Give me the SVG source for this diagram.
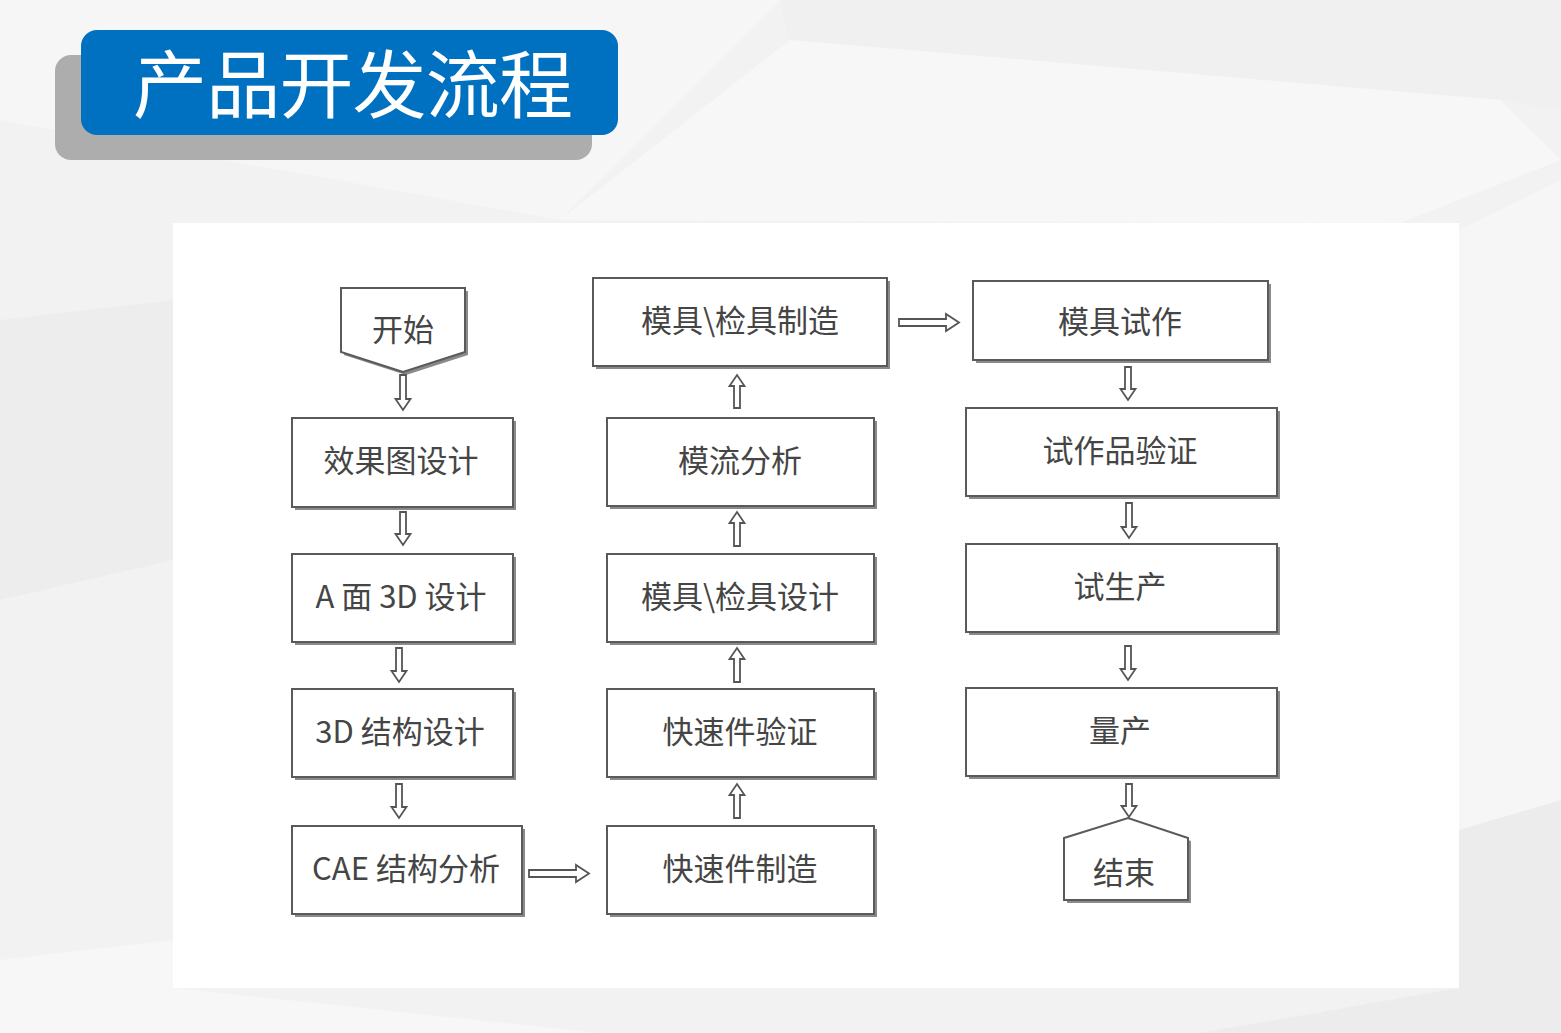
<svg xmlns="http://www.w3.org/2000/svg" width="1561" height="1033" viewBox="0 0 1561 1033">
<defs>
<style>
.box{fill:#fff;stroke:#5a5a5a;stroke-width:2}
.sh{fill:#8a8a8a}
.lbl{font-family:"Noto Sans CJK SC","Noto Sans",sans-serif;font-size:31px;fill:#454545;text-anchor:middle}
.arr{fill:#fff;stroke:#555;stroke-width:1.8;stroke-linejoin:miter}
.title{font-family:"Noto Sans CJK SC","Noto Sans",sans-serif;font-size:74px;fill:#fff}
</style>
</defs>
<rect x="0" y="0" width="1561" height="1033" fill="#f2f2f2"/>
<polygon points="0,0 780,0 560,220 0,120" fill="#f6f6f6"/>
<polygon points="780,0 1561,0 1561,110 1500,100 790,40" fill="#f0f0f0"/>
<polygon points="790,40 1500,100 1561,160 1400,223 560,220" fill="#f7f7f7"/>
<polygon points="0,320 173,300 173,560 0,600" fill="#ededed"/>
<polygon points="1459,230 1561,180 1561,820 1459,850" fill="#f6f6f6"/>
<polygon points="0,960 173,940 173,988 600,1033 0,1033" fill="#f7f7f7"/>
<polygon points="1459,830 1561,800 1561,1033 1200,1033 1459,988" fill="#ececec"/>
<g id="title">
<rect x="55" y="55" width="537" height="105" rx="16" fill="#adadad"/>
<rect x="81" y="30" width="537" height="105" rx="16" fill="#0070c0"/>
<text class="title" x="133" y="112" textLength="440">产品开发流程</text>
</g>
<rect x="173" y="223" width="1286" height="765" fill="#fff"/>
<g id="n-start">
<polygon class="sh" points="344,291 468,291 468,355 406,375 344,355"/>
<polygon class="box" points="341,288 465,288 465,352 403,372 341,352"/>
<text class="lbl" x="403" y="341">开始</text>
</g>
<g id="n-xiaoguotu">
<rect class="sh" x="295" y="421" width="221" height="89"/>
<rect class="box" x="292" y="418" width="221" height="89"/>
<text class="lbl" x="401" y="472">效果图设计</text>
</g>
<g id="n-amian">
<rect class="sh" x="295" y="557" width="221" height="88"/>
<rect class="box" x="292" y="554" width="221" height="88"/>
<text class="lbl" x="401" y="608">A 面 3D 设计</text>
</g>
<g id="n-jiegou">
<rect class="sh" x="295" y="692" width="221" height="88"/>
<rect class="box" x="292" y="689" width="221" height="88"/>
<text class="lbl" x="400" y="743">3D 结构设计</text>
</g>
<g id="n-cae">
<rect class="sh" x="295" y="829" width="230" height="88"/>
<rect class="box" x="292" y="826" width="230" height="88"/>
<text class="lbl" x="406" y="880">CAE 结构分析</text>
</g>
<g id="n-mojuzhizao">
<rect class="sh" x="596" y="281" width="294" height="88"/>
<rect class="box" x="593" y="278" width="294" height="88"/>
<text class="lbl" x="740" y="332">模具\检具制造</text>
</g>
<g id="n-moliu">
<rect class="sh" x="610" y="421" width="267" height="88"/>
<rect class="box" x="607" y="418" width="267" height="88"/>
<text class="lbl" x="740" y="472">模流分析</text>
</g>
<g id="n-mojusheji">
<rect class="sh" x="610" y="557" width="267" height="88"/>
<rect class="box" x="607" y="554" width="267" height="88"/>
<text class="lbl" x="740" y="608">模具\检具设计</text>
</g>
<g id="n-kuaisuyanzheng">
<rect class="sh" x="610" y="692" width="267" height="88"/>
<rect class="box" x="607" y="689" width="267" height="88"/>
<text class="lbl" x="740" y="743">快速件验证</text>
</g>
<g id="n-kuaisuzhizao">
<rect class="sh" x="610" y="829" width="267" height="88"/>
<rect class="box" x="607" y="826" width="267" height="88"/>
<text class="lbl" x="740" y="880">快速件制造</text>
</g>
<g id="n-mojushizuo">
<rect class="sh" x="976" y="284" width="295" height="79"/>
<rect class="box" x="973" y="281" width="295" height="79"/>
<text class="lbl" x="1120" y="333">模具试作</text>
</g>
<g id="n-shizuopin">
<rect class="sh" x="969" y="411" width="311" height="88"/>
<rect class="box" x="966" y="408" width="311" height="88"/>
<text class="lbl" x="1120" y="462">试作品验证</text>
</g>
<g id="n-shishengchan">
<rect class="sh" x="969" y="547" width="311" height="88"/>
<rect class="box" x="966" y="544" width="311" height="88"/>
<text class="lbl" x="1120" y="598">试生产</text>
</g>
<g id="n-liangchan">
<rect class="sh" x="969" y="691" width="311" height="88"/>
<rect class="box" x="966" y="688" width="311" height="88"/>
<text class="lbl" x="1120" y="742">量产</text>
</g>
<g id="n-end">
<polygon class="sh" points="1067,841 1131,821 1191,841 1191,903 1067,903"/>
<polygon class="box" points="1064,838 1128,818 1188,838 1188,900 1064,900"/>
<text class="lbl" x="1124" y="884">结束</text>
</g>
<g id="connectors">
<path class="arr" d="M400,375 H406 V399 H410.5 L403,410 L395.5,399 H400 Z"/>
<path class="arr" d="M400,512 H406 V534 H410.5 L403,545 L395.5,534 H400 Z"/>
<path class="arr" d="M396,648 H402 V671 H406.5 L399,682 L391.5,671 H396 Z"/>
<path class="arr" d="M396,784 H402 V807 H406.5 L399,818 L391.5,807 H396 Z"/>
<path class="arr" d="M734,408 H740 V386 H744.5 L737,375 L729.5,386 H734 Z"/>
<path class="arr" d="M734,546 H740 V523 H744.5 L737,512 L729.5,523 H734 Z"/>
<path class="arr" d="M734,682 H740 V659 H744.5 L737,648 L729.5,659 H734 Z"/>
<path class="arr" d="M734,818 H740 V795 H744.5 L737,784 L729.5,795 H734 Z"/>
<path class="arr" d="M1125,367 H1131 V389 H1135.5 L1128,400 L1120.5,389 H1125 Z"/>
<path class="arr" d="M1126,503 H1132 V527 H1136.5 L1129,538 L1121.5,527 H1126 Z"/>
<path class="arr" d="M1125,646 H1131 V669 H1135.5 L1128,680 L1120.5,669 H1125 Z"/>
<path class="arr" d="M1126,784 H1132 V806 H1136.5 L1129,817 L1121.5,806 H1126 Z"/>
<path class="arr" d="M529,870 V877 H576 V882 L589,873.5 L576,865 V870 Z"/>
<path class="arr" d="M899,319 V326 H946 V331 L959,322.5 L946,314 V319 Z"/>
</g>
</svg>
